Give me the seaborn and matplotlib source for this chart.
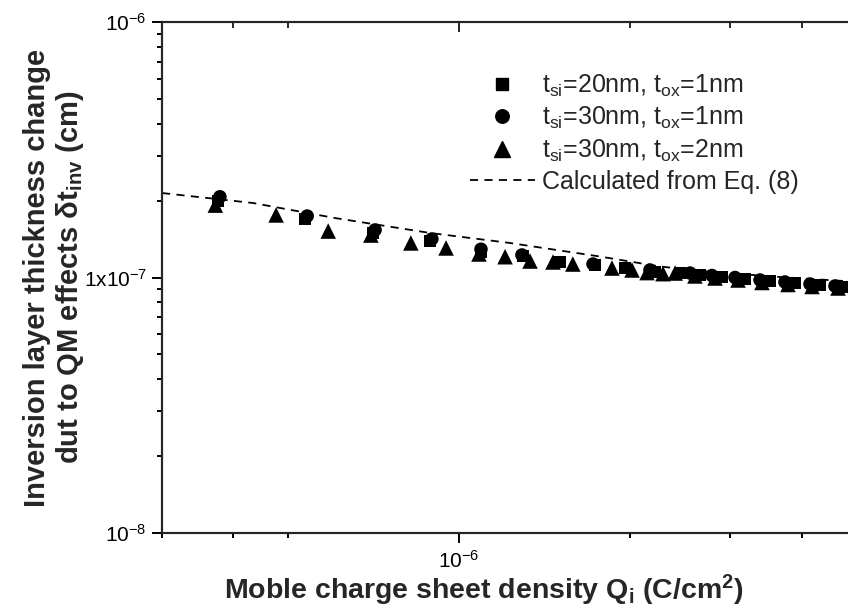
import matplotlib
matplotlib.use("Agg")
import matplotlib.pyplot as plt
from matplotlib.lines import Line2D
from matplotlib.ticker import FixedLocator, NullFormatter
import seaborn as sns
import numpy as np

# Mobile charge density Q_i (C/cm^2) and QM inversion-layer thickness change (cm)
q_20nm_1nm = [0.377, 0.536, 0.706, 0.889, 1.093, 1.296, 1.505, 1.734, 1.957, 2.21,
              2.446, 2.652, 2.900, 3.182, 3.520, 3.895, 4.310, 4.730]
dt_20nm_1nm = [1.99, 1.69, 1.49, 1.39, 1.258, 1.214, 1.15, 1.119, 1.089, 1.051,
               1.041, 1.023, 1.0045, 0.9866, 0.9689, 0.9516, 0.9347, 0.9180]

q_30nm_1nm = [0.380, 0.541, 0.712, 0.896, 1.093, 1.29, 1.72, 2.166, 2.547, 2.784,
              3.056, 3.381, 3.740, 4.139, 4.579]
dt_30nm_1nm = [2.07, 1.74, 1.535, 1.415, 1.29, 1.225, 1.129, 1.070, 1.041, 1.018,
               1.0, 0.9777, 0.9603, 0.9431, 0.9263]

q_30nm_2nm = [0.373, 0.477, 0.589, 0.700, 0.823, 0.949, 1.084, 1.205, 1.333, 1.463,
              1.585, 1.857, 2.014, 2.14, 2.283, 2.398, 2.598, 2.818, 3.093, 3.408,
              3.786, 4.173, 4.636]
dt_30nm_2nm = [1.92, 1.757, 1.52, 1.466, 1.365, 1.305, 1.236, 1.206, 1.16, 1.15,
               1.129, 1.089, 1.070, 1.045, 1.035, 1.041, 1.014, 0.9955, 0.9777, 0.956,
               0.9388, 0.9221, 0.9097]

# Eq. (8)
q_eq = [0.3007, 0.4345, 0.6054, 0.889, 1.229, 1.769, 2.256, 2.795, 3.665, 5.07]
dt_eq = [2.141, 1.957, 1.709, 1.494, 1.365, 1.208, 1.104, 1.05, 1.0045, 0.960]

q_scale = 1e-6
dt_scale = 1e-7

labels = [r"t$_{\mathregular{si}}$=20nm, t$_{\mathregular{ox}}$=1nm",
          r"t$_{\mathregular{si}}$=30nm, t$_{\mathregular{ox}}$=1nm",
          r"t$_{\mathregular{si}}$=30nm, t$_{\mathregular{ox}}$=2nm",
          "Calculated from Eq. (8)"]

sns.set_style("ticks")
plt.rcParams["font.family"] = ["Liberation Sans", "DejaVu Sans"]
plt.rcParams["mathtext.fontset"] = "custom"
plt.rcParams["mathtext.rm"] = "Liberation Sans"
plt.rcParams["mathtext.it"] = "Liberation Sans:italic"
plt.rcParams["mathtext.bf"] = "Liberation Sans:bold"

W, H = 848, 607
fig = plt.figure(figsize=(W / 100, H / 100), dpi=100)
left_px, right_px, top_px, bot_px = 161.5, 856.7, 22, 533
ax = fig.add_axes([left_px / W, 1 - bot_px / H, (right_px - left_px) / W, (bot_px - top_px) / H])

ax.set_xscale("log")
ax.set_yscale("log")

series = [
    (q_20nm_1nm, dt_20nm_1nm, "s", 78),
    (q_30nm_1nm, dt_30nm_1nm, "o", 95),
    (q_30nm_2nm, dt_30nm_2nm, "^", 125),
]
for q, dt, mk, sz in series:
    sns.scatterplot(x=np.array(q) * q_scale, y=np.array(dt) * dt_scale, marker=mk, s=sz,
                    color="black", edgecolor="none", linewidth=0, ax=ax, zorder=3)

sns.lineplot(x=np.array(q_eq) * q_scale, y=np.array(dt_eq) * dt_scale, sort=False,
             estimator=None, color="black", linewidth=1.3, ax=ax, zorder=2)
ax.lines[-1].set_dashes([4.5, 3.5])

ax.set_xlim(3e-7, 5e-6)
ax.set_ylim(1e-8, 1e-6)

# axis styling
for sp in ax.spines.values():
    sp.set_linewidth(1.5)
    sp.set_color("black")

tick_fs = 15
ax.xaxis.set_major_locator(FixedLocator([1e-6]))
ax.xaxis.set_minor_locator(FixedLocator([3e-7, 4e-7, 5e-7, 2e-6, 3e-6, 4e-6, 5e-6]))
ax.xaxis.set_minor_formatter(NullFormatter())
ax.set_xticklabels([r"$\mathregular{10^{-6}}$"], fontsize=tick_fs)

ax.yaxis.set_major_locator(FixedLocator([1e-8, 1e-7, 1e-6]))
ax.yaxis.set_minor_locator(FixedLocator([m * 10.0 ** e for e in (-8, -7) for m in range(2, 10)]))
ax.yaxis.set_minor_formatter(NullFormatter())
ax.set_yticklabels([r"$\mathregular{10^{-8}}$", r"$\mathregular{1x10^{-7}}$",
                    r"$\mathregular{10^{-6}}$"], fontsize=tick_fs)

ax.tick_params(which="major", direction="out", length=7.5, width=1.4, labelsize=tick_fs,
               color="black", labelcolor="black")
ax.tick_params(axis="x", which="major", pad=5)
ax.tick_params(axis="y", which="major", pad=3)
ax.tick_params(which="minor", direction="out", length=3.5, width=1.4, color="black")

# mirrored ticks on the top edge, pointing inward
top = ax.twiny()
top.set_xscale("log")
top.set_xlim(ax.get_xlim())
top.xaxis.set_major_locator(FixedLocator([1e-6]))
top.xaxis.set_minor_locator(FixedLocator([3e-7, 4e-7, 5e-7, 2e-6, 3e-6, 4e-6, 5e-6]))
top.xaxis.set_major_formatter(NullFormatter())
top.xaxis.set_minor_formatter(NullFormatter())
top.tick_params(axis="x", which="major", direction="in", length=7.5, width=1.4)
top.tick_params(axis="x", which="minor", direction="in", length=4.5, width=1.4)
for sp in top.spines.values():
    sp.set_linewidth(1.5)

ax.set_xlabel(r"Moble charge sheet density Q$_{\mathbf{i}}$ (C/cm$^{\mathbf{2}}$)",
              fontsize=20.5, fontweight="bold")
ax.xaxis.set_label_coords((484 - left_px) / (right_px - left_px), -0.077)
ax.set_ylabel("Inversion layer thickness change\n"
              r"dut to QM effects $\mathbf{\delta}$t$_{\mathbf{inv}}$ (cm)",
              fontsize=21, fontweight="bold", linespacing=1.15)
ax.yaxis.set_label_coords(-0.108, 0.50)

handles = [
    Line2D([], [], marker="s", linestyle="none", color="black", markersize=8.8),
    Line2D([], [], marker="o", linestyle="none", color="black", markersize=9.7),
    Line2D([], [], marker="^", linestyle="none", color="black", markersize=11.2),
    Line2D([], [], linestyle=(0, (4.5, 3.5)), color="black", linewidth=1.3),
]
leg = ax.legend(handles, labels, loc="upper left", frameon=False,
                bbox_to_anchor=(470 / W, 1 - 72.5 / H), bbox_transform=fig.transFigure,
                borderpad=0, borderaxespad=0, handlelength=2.6, handletextpad=0.3,
                labelspacing=0.25, fontsize=18)

fig.savefig("out.png", dpi=100)
